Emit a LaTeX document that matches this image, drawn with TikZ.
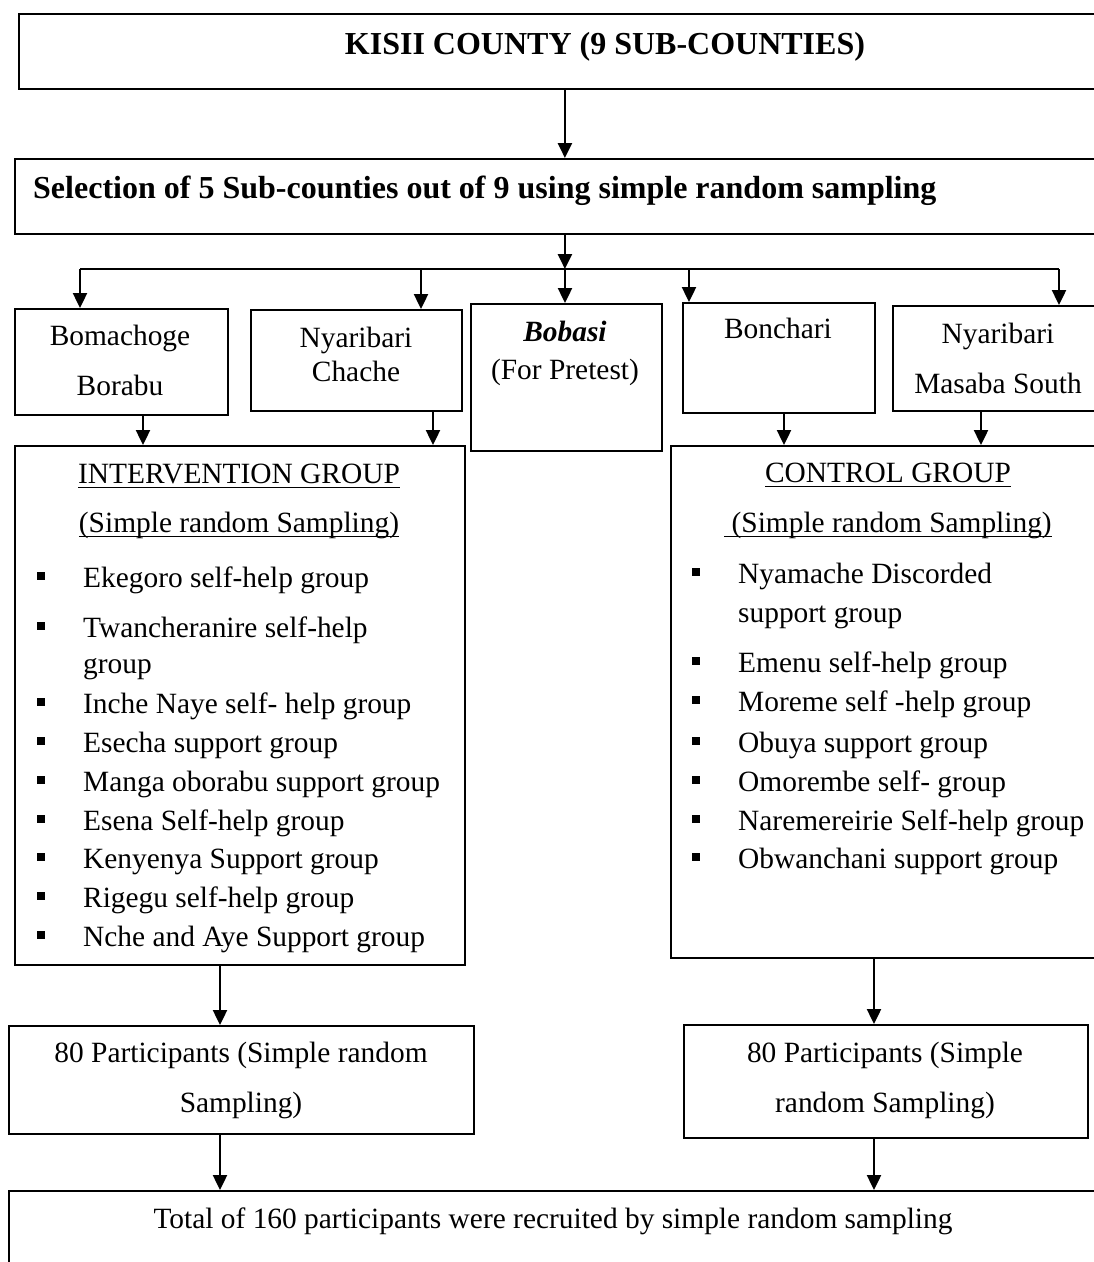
\documentclass[tikz,border=0pt]{standalone}
\usepackage{fontspec}
\setmainfont{Liberation Serif}
\usetikzlibrary{arrows.meta,calc}
\newcommand\myul[1]{\setbox0\hbox{#1}\rlap{\rule[-5bp]{\wd0}{1.4bp}}\box0}
\begin{document}
\begin{tikzpicture}[x=1bp,y=-1bp,
  box/.style={draw,line width=1.8bp,inner sep=0pt,anchor=north west},
  arr/.style={line width=2.4bp,-{Triangle[length=15bp,width=14bp]}},
  plain/.style={line width=2.4bp},
  txt/.style={inner sep=0pt,anchor=base,font=\fontsize{29.4bp}{39bp}\selectfont},
  btxt/.style={txt,font=\fontsize{32bp}{39bp}\selectfont\bfseries},
  itemtxt/.style={txt,anchor=base west},
  bul/.style={fill=black,draw=none}
]
\useasboundingbox (0,0) rectangle (1094,1262);
\clip (0,0) rectangle (1094,1262);

% top boxes
\node[box,minimum width=1174bp,minimum height=75bp] (k) at (18,13) {};
\node[btxt] (kt) at (605,54) {KISII COUNTY (9 SUB-COUNTIES)};
\node[box,minimum width=1100bp,minimum height=75bp] (s) at (14,158) {};
\node[btxt,anchor=base west] (st) at (33,198) {Selection of 5 Sub-counties out of 9 using simple random sampling};

\draw[arr] (k.south -| s.north) -- (s.north);

% distribution line
\coordinate (hl) at (80,269);
\coordinate (hr) at (1059,269);
\coordinate (d2) at (421,269);
\coordinate (d3) at (565,269);
\coordinate (d4) at (689,269);
\draw[arr] (s.south) -- (s.south |- hl);
\draw[plain] (hl) -- (hr);

% sub-county boxes
\node[box,minimum width=213bp,minimum height=106bp] (b1) at (14,308) {};
\node[box,minimum width=211bp,minimum height=101bp] (b2) at (250,309) {};
\node[box,minimum width=191bp,minimum height=147bp] (b3) at (470,303) {};
\node[box,minimum width=192bp,minimum height=110bp] (b4) at (682,302) {};
\node[box,minimum width=212bp,minimum height=105bp] (b5) at (892,305) {};

\node[txt] (b1a) at (120,345) {Bomachoge};
\node[txt] (b1b) at (120,395) {Borabu};
\node[txt] (b2a) at (356,347) {Nyaribari};
\node[txt] (b2b) at (356,381) {Chache};
\node[txt,font=\fontsize{29.4bp}{39bp}\selectfont\bfseries\itshape] (b3a) at (565,341) {Bobasi};
\node[txt] (b3b) at (565,379) {(For Pretest)};
\node[txt] (b4a) at (778,338) {Bonchari};
\node[txt] (b5a) at (998,343) {Nyaribari};
\node[txt] (b5b) at (998,393) {Masaba South};

\draw[arr] (hl) -- (hl |- b1.north);
\draw[arr] (d2) -- (d2 |- b2.north);
\draw[arr] (d3) -- (d3 |- b3.north);
\draw[arr] (d4) -- (d4 |- b4.north);
\draw[arr] (hr) -- (hr |- b5.north);

% group boxes
\node[box,minimum width=450bp,minimum height=519bp] (gi) at (14,445) {};
\node[box,minimum width=440bp,minimum height=512bp] (gc) at (670,445) {};

\coordinate (o1) at (143,414);
\coordinate (o2) at (433,410);
\coordinate (o4) at (784,412);
\coordinate (o5) at (981,410);
\draw[arr] (o1) -- (o1 |- gi.north);
\draw[arr] (o2) -- (o2 |- gi.north);
\draw[arr] (o4) -- (o4 |- gc.north);
\draw[arr] (o5) -- (o5 |- gc.north);

% intervention list
\node[txt] (gih) at (239,483) {\myul{INTERVENTION GROUP}};
\node[txt] (gis) at (239,532) {\myul{(Simple random Sampling)}};
\foreach \y/\t [count=\i] in {587/Ekegoro self-help group,637/Twancheranire self-help,713/Inche Naye self- help group,752/Esecha support group,791/Manga oborabu support group,830/Esena Self-help group,868/Kenyenya Support group,907/Rigegu self-help group,946/Nche and Aye Support group}{
  \node[itemtxt] (ii\i) at (83,\y) {\t};
  \fill[bul] (37,\y-15) rectangle (45,\y-7);
}
\node[itemtxt] (ii2b) at (83,673) {group};

% control list
\node[txt] (gch) at (888,482) {\myul{CONTROL GROUP}};
\node[txt] (gcs) at (888,532) {\myul{\ (Simple random Sampling)}};
\foreach \y/\t [count=\i] in {583/Nyamache Discorded,672/Emenu self-help group,711/Moreme self -help group,752/Obuya support group,791/Omorembe self- group,830/Naremereirie Self-help group,868/Obwanchani support group}{
  \node[itemtxt] (ci\i) at (738,\y) {\t};
  \fill[bul] (692,\y-15) rectangle (700,\y-7);
}
\node[itemtxt] (ci1b) at (738,622) {support group};

% participants
\node[box,minimum width=465bp,minimum height=108bp] (p1) at (8,1025) {};
\node[box,minimum width=404bp,minimum height=113bp] (p2) at (683,1024) {};
\node[txt] (p1a) at (241,1062) {80 Participants (Simple random};
\node[txt] (p1b) at (241,1112) {Sampling)};
\node[txt] (p2a) at (885,1062) {80 Participants (Simple};
\node[txt] (p2b) at (885,1112) {random Sampling)};

\coordinate (ai) at (220,964);
\coordinate (ac) at (874,957);
\draw[arr] (ai) -- (ai |- p1.north);
\draw[arr] (ac) -- (ac |- p2.north);

% total
\node[box,minimum width=1100bp,minimum height=100bp] (t) at (8,1190) {};
\node[txt] (tt) at (553,1228) {Total of 160 participants were recruited by simple random sampling};
\draw[arr] (p1.south -| ai) -- (ai |- t.north);
\draw[arr] (p2.south -| ac) -- (ac |- t.north);
\end{tikzpicture}
\end{document}
